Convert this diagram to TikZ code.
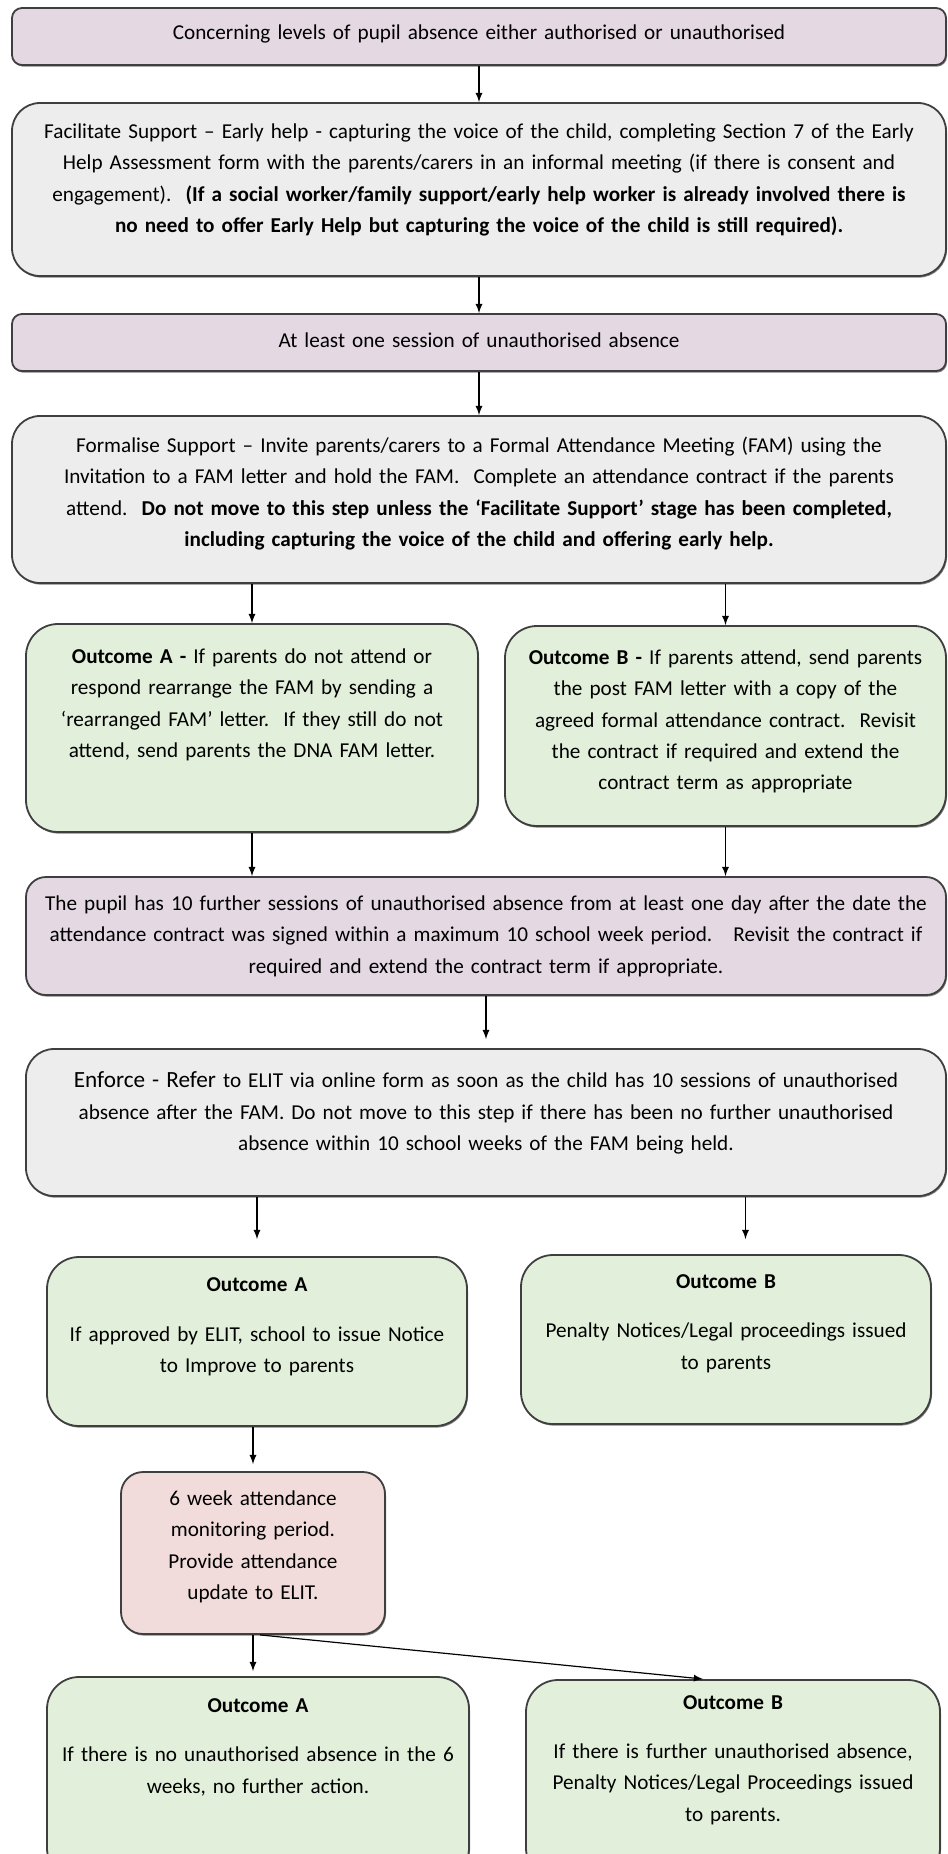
\documentclass[tikz,border=0pt]{standalone}
\usepackage{fontspec}
\setmainfont{Carlito}
\usetikzlibrary{shadows}
\frenchspacing

\definecolor{boxline}{HTML}{3F3F3F}
\definecolor{mauve}{HTML}{E4D8E2}
\definecolor{lightgrey}{HTML}{EDEDED}
\definecolor{palegreen}{HTML}{E2EFDA}
\definecolor{palepink}{HTML}{F2DCDB}

\tikzset{
  stage/.style={draw=boxline, line width=0.9pt, inner sep=0pt,
    drop shadow={shadow xshift=0.5pt, shadow yshift=-0.8pt, opacity=0.5, fill=black}},
  purplebox/.style={stage, fill=mauve, rounded corners=5pt},
  greybox/.style={stage, fill=lightgrey, rounded corners=14pt},
  greenbox/.style={stage, fill=palegreen, rounded corners=16pt},
  pinkbox/.style={stage, fill=palepink, rounded corners=11pt},
  txt/.style={align=center, inner sep=0pt, font=\fontsize{10.6}{15.7}\selectfont},
  arr/.style={-latex, line width=0.6pt}
}

\begin{document}
\begin{tikzpicture}[x=0.5pt, y=-0.5pt]
    \path[use as bounding box, clip] (0,0) rectangle (948,1854);

    % Boxes
    \node[purplebox, minimum width=467pt, minimum height=28.5pt] (concern) at (479,36.5) {};
    \node[greybox, minimum width=467pt, minimum height=86.5pt] (facil) at (479,189.5) {};
    \node[purplebox, minimum width=467pt, minimum height=28.5pt] (oneses) at (479,342.5) {};
    \node[greybox, minimum width=467pt, minimum height=83.5pt] (formal) at (479,499.5) {};
    \node[greenbox, minimum width=226pt, minimum height=104pt] (famA) at (252,728) {};
    \node[greenbox, minimum width=220.5pt, minimum height=100pt] (famB) at (725.5,726) {};
    \node[purplebox, rounded corners=10pt, minimum width=460pt, minimum height=59pt] (pupil) at (486,936) {};
    \node[greybox, minimum width=460pt, minimum height=73.5pt] (enforce) at (486,1122.5) {};
    \node[greenbox, minimum width=210pt, minimum height=84.5pt] (itiA) at (257,1341.5) {};
    \node[greenbox, minimum width=205pt, minimum height=84.5pt] (itiB) at (726,1339.5) {};
    \node[pinkbox, minimum width=132pt, minimum height=81pt] (monitor) at (253,1553) {};
    \node[greenbox, minimum width=211pt, minimum height=101.5pt] (finalA) at (258,1778.5) {};
    \node[greenbox, minimum width=207pt, minimum height=100pt] (finalB) at (733,1780) {};

    % Texts
    \node[txt, text width=460pt] (concernt) at ([yshift=1.5pt]concern.center)
      {Concerning levels of pupil absence either authorised or unauthorised};
    \node[txt, text width=460pt] (facilt) at ([yshift=4.75pt]facil.center)
      {Facilitate Support -- Early help - capturing the voice of the child, completing Section 7 of the Early\\
       Help Assessment form with the parents/carers in an informal meeting (if there is consent and\\
       engagement).~ \textbf{(If a social worker/family support/early help worker is already involved there is\\
       no need to offer Early Help but capturing the voice of the child is still required).}};
    \node[txt, text width=460pt] (onesest) at ([yshift=1pt]oneses.center)
      {At least one session of unauthorised absence};
    \node[txt, text width=460pt] (formalt) at ([yshift=3pt]formal.center)
      {Formalise Support -- Invite parents/carers to a Formal Attendance Meeting (FAM) using the\\
       Invitation to a FAM letter and hold the FAM.~ Complete an attendance contract if the parents\\
       attend.~ \textbf{Do not move to this step unless the `Facilitate Support' stage has been completed,\\
       including capturing the voice of the child and offering early help.}};
    \node[txt, text width=222pt] (famAt) at ([yshift=11.5pt]famA.center)
      {\textbf{Outcome A -} If parents do not attend or\\
       respond rearrange the FAM by sending a\\
       `rearranged FAM' letter.~ If they still do not\\
       attend, send parents the DNA FAM letter.};
    \node[txt, text width=218pt] (famBt) at ([yshift=2.25pt]famB.center)
      {\textbf{Outcome B -} If parents attend, send parents\\
       the post FAM letter with a copy of the\\
       agreed formal attendance contract.~ Revisit\\
       the contract if required and extend the\\
       contract term as appropriate};
    \node[txt, text width=458pt] (pupilt) at (pupil.center)
      {The pupil has 10 further sessions of unauthorised absence from at least one day after the date the\\
       attendance contract was signed within a maximum 10 school week period.~~ Revisit the contract if\\
       required and extend the contract term if appropriate.};
    \node[txt, text width=458pt] (enforcet) at ([yshift=4.75pt]enforce.center)
      {{\fontsize{11.6}{15.7}\selectfont Enforce - Refer} to ELIT via online form as soon as the child has 10 sessions of unauthorised\\
       absence after the FAM. Do not move to this step if there has been no further unauthorised\\
       absence within 10 school weeks of the FAM being held.};
    \node[txt, text width=208pt] (itiAt) at ([yshift=7.25pt]itiA.center)
      {\textbf{Outcome A}\\[9pt]
       If approved by ELIT, school to issue Notice\\
       to Improve to parents};
    \node[txt, text width=203pt] (itiBt) at ([yshift=8pt]itiB.center)
      {\textbf{Outcome B}\\[9pt]
       Penalty Notices/Legal proceedings issued\\
       to parents};
    \node[txt, text width=128pt] (monitort) at ([yshift=3pt]monitor.center)
      {6 week attendance\\
       monitoring period.\\
       Provide attendance\\
       update to ELIT.};
    \node[txt, text width=209pt] (finalAt) at ([yshift=15.75pt]finalA.center)
      {\textbf{Outcome A}\\[9pt]
       If there is no unauthorised absence in the 6\\
       weeks, no further action.};
    \node[txt, text width=205pt] (finalBt) at ([yshift=10pt]finalB.center)
      {\textbf{Outcome B}\\[9pt]
       If there is further unauthorised absence,\\
       Penalty Notices/Legal Proceedings issued\\
       to parents.};

    % Arrows
    \draw[arr] (concern) -- (facil);
    \draw[arr] (facil) -- (oneses);
    \draw[arr] (oneses) -- (formal);
    \draw[arr] (famA.north |- formal.south) -- (famA.north);
    \draw[arr] (famB.north |- formal.south) -- (famB.north);
    \draw[arr] (famA.south) -- (famA.south |- pupil.north);
    \draw[arr] (famB.south) -- (famB.south |- pupil.north);
    \draw[arr, shorten >=4.5pt] (pupil) -- (enforce);
    \draw[arr, shorten >=8.5pt] (itiA.north |- enforce.south) -- (itiA.north);
    \draw[arr, shorten >=7.5pt] ([xshift=9.75pt]itiB.north |- enforce.south) -- ([xshift=9.75pt]itiB.north);
    \draw[arr, shorten >=3.5pt] (monitor.north |- itiA.south) -- (monitor.north);
    \draw[arr, shorten >=2.5pt] (monitor.south) -- (monitor.south |- finalA.north);
    \draw[arr, shorten >=0.5pt] ([xshift=3.5pt]monitor.south) -- ([xshift=-14.5pt]finalB.north);
\end{tikzpicture}
\end{document}
